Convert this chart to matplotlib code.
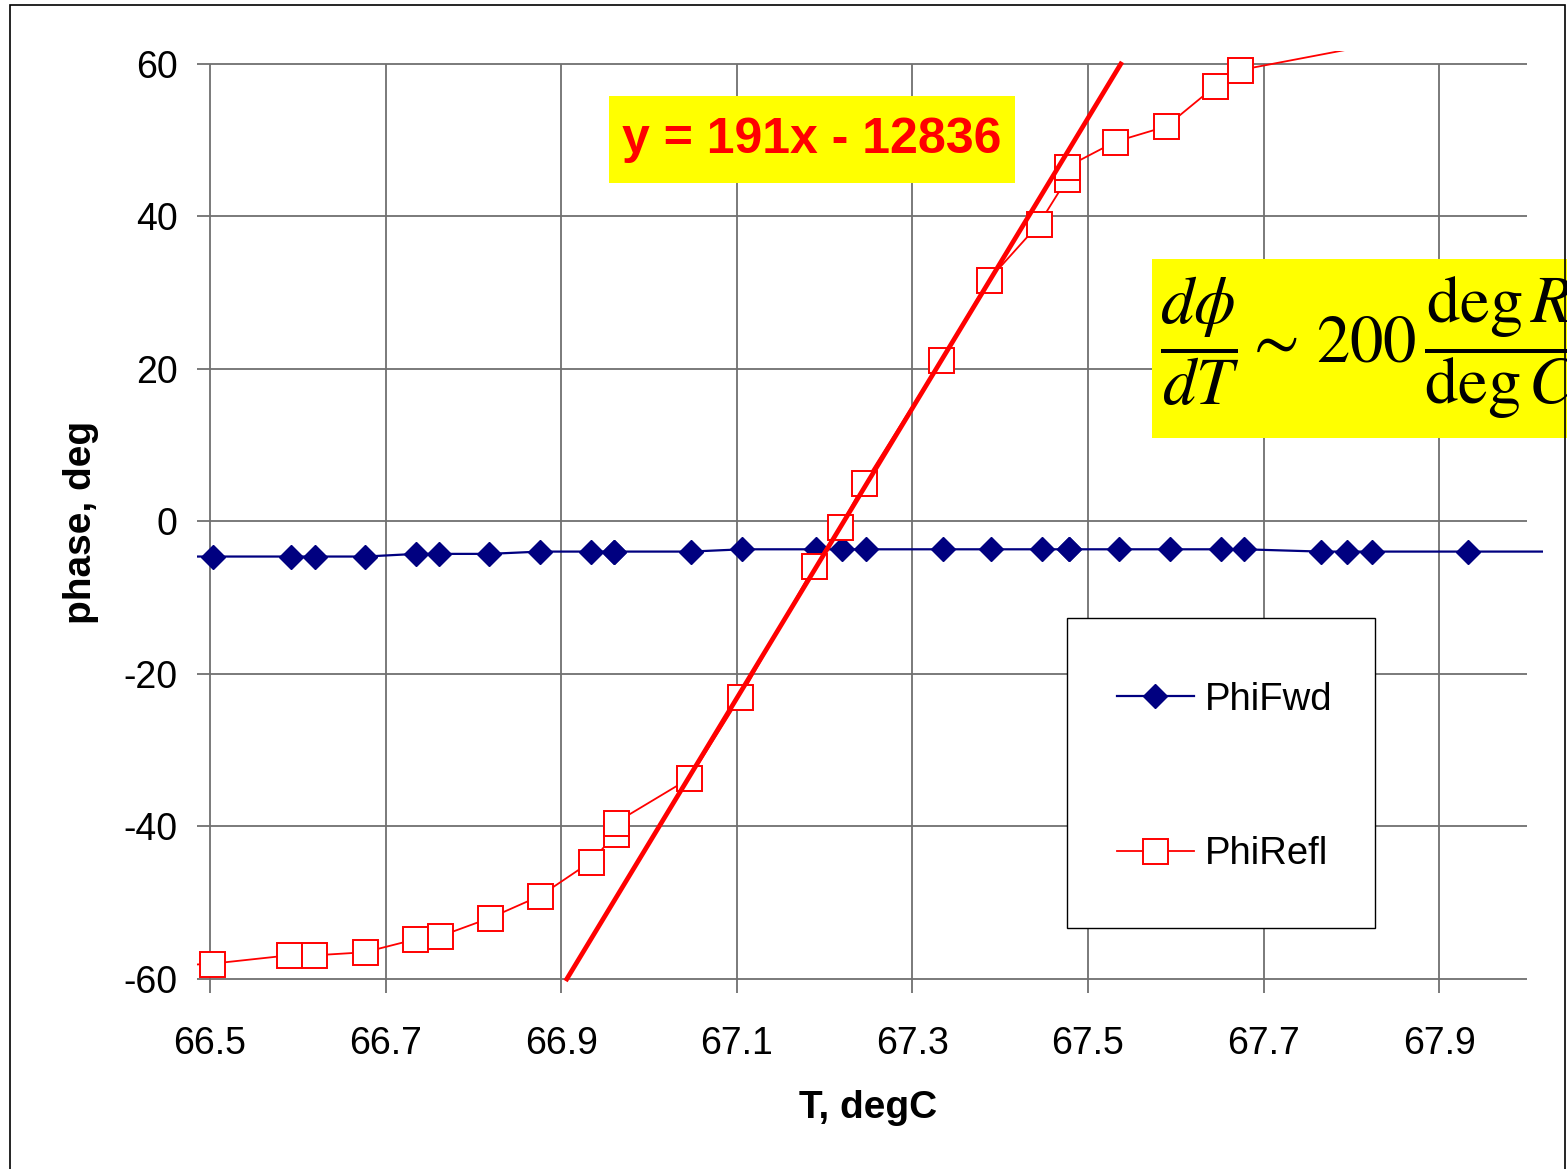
import numpy as np
import matplotlib
matplotlib.use("Agg")
import matplotlib.pyplot as plt
from matplotlib.patches import Rectangle

plt.rcParams['font.family'] = ['Liberation Sans', 'DejaVu Sans']
plt.rcParams['mathtext.fontset'] = 'stix'
plt.rcParams['axes.unicode_minus'] = False

# forward phase (blue diamonds)
t_fwd = [66.45, 66.503, 66.592, 66.620, 66.677, 66.735, 66.761, 66.818, 66.876,
         66.934, 66.960, 66.960, 67.048, 67.106, 67.190, 67.220, 67.247, 67.335,
         67.390, 67.448, 67.478, 67.478, 67.535, 67.593, 67.651, 67.678, 67.765,
         67.795, 67.823, 67.933, 68.05]
phi_fwd = [-4.6, -4.6, -4.6, -4.6, -4.6, -4.25, -4.25, -4.25, -3.95,
           -3.95, -3.95, -3.95, -3.95, -3.65, -3.65, -3.65, -3.65, -3.65,
           -3.65, -3.65, -3.65, -3.65, -3.65, -3.65, -3.65, -3.65, -3.95,
           -3.95, -3.95, -3.95, -3.95]

# reflected phase (red squares)
t_refl = [66.45, 66.502, 66.590, 66.619, 66.676, 66.734, 66.762, 66.819, 66.876,
          66.934, 66.962, 66.962, 67.046, 67.104, 67.188, 67.218, 67.245, 67.333,
          67.387, 67.444, 67.476, 67.476, 67.531, 67.589, 67.645, 67.673, 67.933]
phi_refl = [-58.3, -58.0, -56.9, -56.9, -56.5, -54.8, -54.4, -52.0, -49.1,
            -44.6, -41.0, -39.5, -33.7, -23.0, -5.9, -0.7, 5.0, 21.2,
            31.7, 39.0, 44.9, 46.5, 49.8, 51.8, 57.1, 59.2, 64.9]

# linear trend (as drawn)
trend_slope = 190.2
trend_icpt = -12785.6

xticks = [66.5, 66.7, 66.9, 67.1, 67.3, 67.5, 67.7, 67.9]
yticks = [-60, -40, -20, 0, 20, 40, 60]

W, H = 1567, 1169
fig = plt.figure(figsize=(W / 100, H / 100), dpi=100)

def fx(px):
    return px / W

def fy(py):
    return 1 - py / H

ax = fig.add_axes([fx(197), fy(993), (1543 - 197) / W, (993 - 51) / H])
xmin, xmax = 66.4852, 68.0182
ymin, ymax = -61.84, 61.70
ax.set_xlim(xmin, xmax)
ax.set_ylim(ymin, ymax)
for s in ax.spines.values():
    s.set_visible(False)

gc = '#707070'
ax.hlines(yticks, xmin, 68.0, color=gc, lw=1.3, zorder=1)
ax.vlines(xticks, ymin, 60, color=gc, lw=1.3, zorder=1)

ax.set_xticks(xticks)
ax.set_xticklabels(['%.1f' % v for v in xticks])
ax.set_yticks(yticks)
ax.tick_params(axis='both', length=0, labelsize=27)
ax.tick_params(axis='x', pad=24)
ax.tick_params(axis='y', pad=14)

l1, = ax.plot(t_fwd, phi_fwd, color='#000080', lw=1.6, marker='D', ms=12,
              mfc='#000080', mec='#000080', label='PhiFwd', zorder=3)
l2, = ax.plot(t_refl, phi_refl, color='#FF0000', lw=1.3, marker='s', ms=18,
              mfc='white', mec='#FF0000', mew=1.4, label='PhiRefl', zorder=4)

tt = np.array([(-60 - trend_icpt) / trend_slope, (60 - trend_icpt) / trend_slope])
ax.plot(tt, trend_slope * tt + trend_icpt, color='#FF0000', lw=3.4, zorder=5)

fig.text(fx(81), fy(522), 'phase, deg', rotation=90, ha='center', va='center',
         fontsize=28, fontweight='bold')
fig.text(fx(868), fy(1108), 'T, degC', ha='center', va='center',
         fontsize=28, fontweight='bold')

# legend box
ax.add_patch(Rectangle((fx(1067), fy(928)), (1375 - 1067) / W, (928 - 618) / H,
                       transform=fig.transFigure, facecolor='white',
                       edgecolor='black', lw=1.0, zorder=9, clip_on=False))
leg = ax.legend(handles=[l1, l2], loc='center', bbox_to_anchor=(fx(1225), fy(777)),
                bbox_transform=fig.transFigure, fontsize=27.5, handlelength=2.0,
                handletextpad=0.3, labelspacing=3.1, borderpad=0.5,
                frameon=False)
leg.set_zorder(10)

# annotation boxes
fig.add_artist(Rectangle((fx(609), fy(183)), (1015 - 609) / W, (183 - 96) / H,
                         transform=fig.transFigure, facecolor='#FFFF00',
                         edgecolor='none', zorder=5))
fig.text(fx(812), fy(140), 'y = 191x - 12836', ha='center', va='center',
         fontsize=36, fontweight='bold', color='#FF0000', zorder=6)

fig.add_artist(Rectangle((fx(1152), fy(438)), (1600 - 1152) / W, (438 - 259) / H,
                         transform=fig.transFigure, facecolor='#FFFF00',
                         edgecolor='none', zorder=5))
fig.text(fx(1160), fy(363), r'$\dfrac{d\phi}{dT}\sim\,200\,\dfrac{\mathrm{deg}\,R}{\mathrm{deg}\,C}$',
         ha='left', va='baseline', fontsize=48, zorder=6)

# outer border
fig.add_artist(Rectangle((fx(10), fy(1180)), (1565 - 10) / W, (1180 - 5) / H,
                         transform=fig.transFigure, facecolor='none',
                         edgecolor='black', lw=1.2, zorder=7))

fig.savefig('out.png', dpi=100)
